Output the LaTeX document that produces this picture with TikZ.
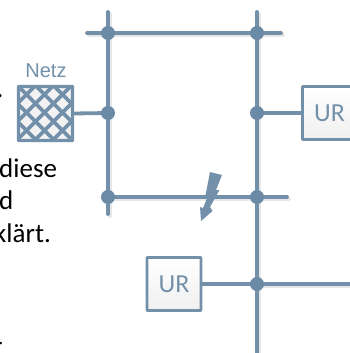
\documentclass[tikz,border=0pt]{standalone}
\usepackage{fontspec}
\setmainfont{Carlito}
\newfontfamily\labelfont{Liberation Sans}
\definecolor{bar}{HTML}{7390AA}
\definecolor{dotc}{HTML}{6A8AA6}
\definecolor{shade}{HTML}{DDDDDD}
\tikzset{x=1pt,y=-1pt,
  busline/.style={line width=3.8pt,draw=bar,line cap=round},
  shadowline/.style={line width=3.8pt,draw=shade,line cap=round},
  junction/.style={circle,fill=dotc,inner sep=0pt,minimum size=14pt},
  urbox/.style={draw=bar,line width=2.8pt,top color=white,bottom color=black!6,minimum width=54pt,minimum height=53pt,inner sep=0pt,text=bar,font=\fontsize{26}{26}\selectfont,rounded corners=0.5pt},
  bodytext/.style={font=\fontsize{27}{27}\selectfont,text=black,inner sep=0pt,anchor=base west},
}
\begin{document}
\begin{tikzpicture}
\useasboundingbox (0,0) rectangle (350,353);
\clip (0,0) rectangle (350,353);
\coordinate (tl) at (108,33);
\coordinate (tr) at (257,33);
\coordinate (ml) at (108,113);
\coordinate (mr) at (257,113);
\coordinate (bl) at (108,197);
\coordinate (br) at (257,197);
\coordinate (ur2j) at (257,284);
\coordinate (a1) at (108,12);\coordinate (a2) at (108,214);
\coordinate (b1) at (257,12);\coordinate (b2) at (257,356);
\coordinate (c1) at (87,33);\coordinate (c2) at (281,33);
\coordinate (d2) at (287,197);
\coordinate (e2) at (354,284);
% shadows
\foreach \p/\q in {a1/a2,b1/b2,c1/c2,bl/d2,ur2j/e2}{
  \draw[shadowline,transform canvas={xshift=2pt,yshift=-2pt},opacity=.7] (\p) -- (\q);}
\draw[busline] (a1) -- (a2);
\draw[busline] (b1) -- (b2);
\draw[busline] (c1) -- (c2);
\draw[busline] (bl) -- (d2);
\node[urbox] (ur1) at (329.5,113) {UR};
\node[urbox] (ur2) at (174,284) {UR};
\draw[busline] (mr) -- (ur1.west);
\draw[busline] (ur2.east) -- (ur2j);
\draw[busline] (ur2j) -- (e2);
% Netz
\node[minimum size=55pt,inner sep=0pt,fill=black!5] (netz) at (45.5,113.5) {};
\begin{scope}
\clip (18,86) rectangle (73,141);
\foreach \k in {-3,...,3}{
  \draw[bar,line width=3.6pt] (44.5+\k*18-50,62.5) -- (44.5+\k*18+50,162.5);
  \draw[bar,line width=3.6pt] (44.5+\k*18+50,62.5) -- (44.5+\k*18-50,162.5);
}
\end{scope}
\node[draw=bar,line width=3.4pt,minimum size=54pt,inner sep=0pt,rounded corners=0.5pt] at (netz.center) {};
\draw[busline,line cap=butt] (netz.east) -- (ml);
\node[text=bar,font=\labelfont\fontsize{20}{20}\selectfont,inner sep=0pt] (netzl) at (46,70.5) {Netz};
% junctions
\foreach \j in {tl,tr,ml,mr,bl,br,ur2j}{\node[junction] at (\j) {};}
% lightning
\fill[bar] (210,172) -- (222,175) -- (216,190) -- (219.5,190) -- (210,207) -- (212.5,211) -- (201,221) -- (200,207) -- (203,208) -- (208,196) -- (205,198) -- cycle;
% text
\node[bodytext] (t0) at (-3.5,97) {.};
\node[bodytext] (t1) at (-1,177) {diese};
\node[bodytext] (t2) at (-1,209) {d};
\node[bodytext] (t3) at (-6,242) {klärt.};
\node[bodytext] (t4) at (-7,355) {r};
\end{tikzpicture}
\end{document}
